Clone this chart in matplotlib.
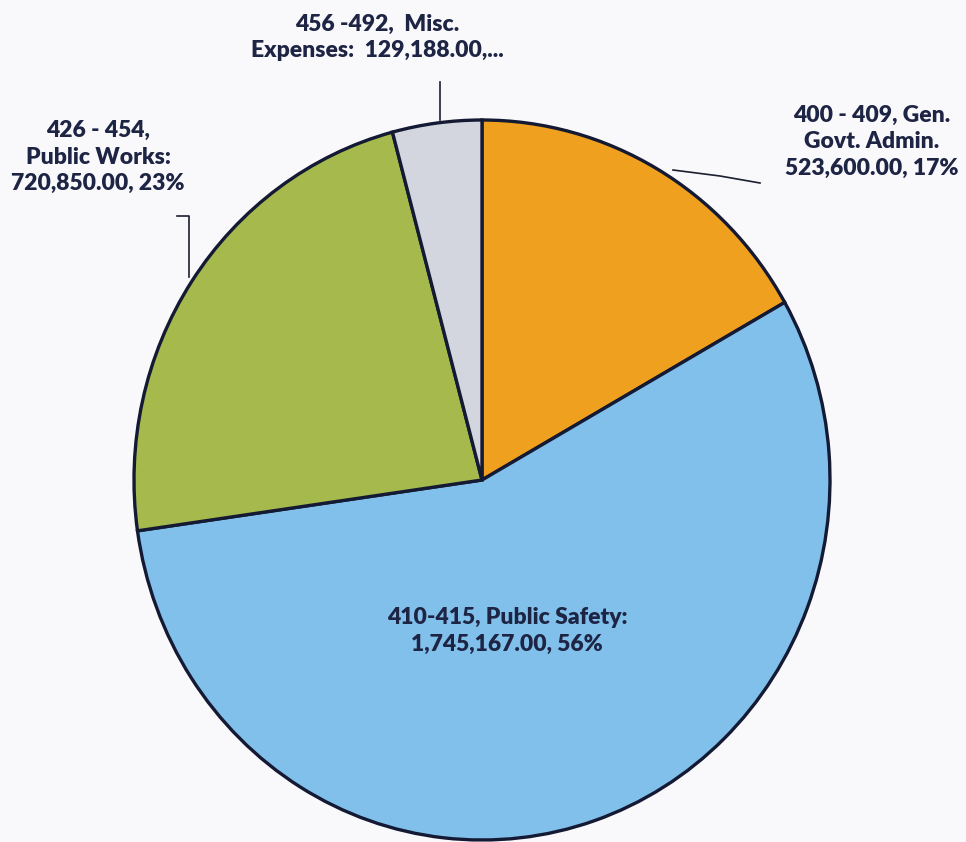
import matplotlib
matplotlib.use("Agg")
import matplotlib.pyplot as plt
from matplotlib.lines import Line2D

# Datos del gráfico
categorias = ["400 - 409, Gen.\nGovt. Admin.",
              "410-415, Public Safety:",
              "426 - 454,\nPublic Works:",
              "456 -492,  Misc.\nExpenses: "]
valores = [523600.00, 1745167.00, 720850.00, 129188.00]
colores = ["#EFA01E", "#80C0EA", "#A5B94D", "#D3D6DE"]

W, H = 966, 842
fig = plt.figure(figsize=(W / 100, H / 100), dpi=100)
fig.patch.set_facecolor("#f9f9fc")

def px(x, y):
    # pixeles de la imagen -> fracción de figura
    return x / W, 1 - y / H

# Ejes con la tarta ligeramente elíptica (como en el escaneo)
cx, cy, rx, ry = 482, 480, 348, 360
ax = fig.add_axes([(cx - rx) / W, 1 - (cy + ry) / H, 2 * rx / W, 2 * ry / H])
ax.pie(valores, colors=colores, startangle=90, counterclock=False,
       wedgeprops=dict(edgecolor="#141a33", linewidth=2.4))
ax.set_aspect("auto")
ax.set_xlim(-1, 1)
ax.set_ylim(-1, 1)
ax.axis("off")

total = sum(valores)
pct = [round(v / total * 100) for v in valores]

txt = dict(ha="center", va="center", fontsize=16.5, fontweight="heavy",
           color="#1E2544", family=["Lato", "DejaVu Sans"], linespacing=1.3)

fig.text(*px(872, 142), f"{categorias[0]}\n{valores[0]:,.2f}, {pct[0]}%", **txt)
fig.text(*px(507, 631), f"{categorias[1]}\n{valores[1]:,.2f}, {pct[1]}%", **txt)
fig.text(*px(98, 157), f"{categorias[2]}\n{valores[2]:,.2f}, {pct[2]}%", **txt)
fig.text(*px(377, 37), f"{categorias[3]} {valores[3]:,.2f},...", **txt)

# Líneas guía
lc = dict(color="#1b1f2e", linewidth=1.2, transform=fig.transFigure)
for pts in ([(673, 170), (720, 176), (760, 183)],
            [(440, 82), (440, 120)],
            [(177, 216), (189, 216), (189, 277)]):
    xs, ys = zip(*[px(x, y) for x, y in pts])
    fig.add_artist(Line2D(xs, ys, **lc))

fig.savefig("out.png", dpi=100, facecolor=fig.get_facecolor())
